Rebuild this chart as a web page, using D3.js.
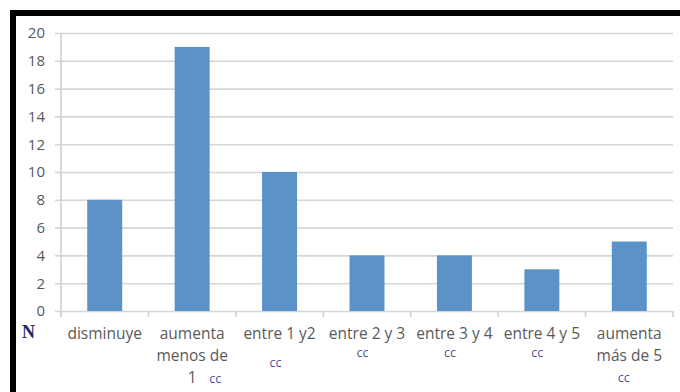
<!DOCTYPE html>
<html>
<head>
<meta charset="utf-8">
<script src="https://cdn.jsdelivr.net/npm/d3@7"></script>
<style>
  html, body { margin: 0; padding: 0; background: #fff; }
  svg { display: block; }
</style>
</head>
<body>
<svg id="chart" width="680" height="392"></svg>
<script>
// Category labels, one entry per wrapped line
const categories = [
  ["disminuye"],
  ["aumenta", "menos de", "1"],
  ["entre 1 y2"],
  ["entre 2 y 3"],
  ["entre 3 y 4"],
  ["entre 4 y 5"],
  ["aumenta", "más de 5"]
];
// Number of cases per category
const values = [8, 19, 10, 4, 4, 3, 5];
// Y axis tick labels
const yTicks = [0, 2, 4, 6, 8, 10, 12, 14, 16, 18, 20];
const unitLabel = "cc";
const axisLabel = "N";

const svg = d3.select("#chart");
const W = 680, H = 392;
const plot = { left: 61, right: 673, top: 33, bottom: 311 };

// frame strips along the top and left edges
svg.append("rect").attr("x", 10).attr("y", 10).attr("width", W - 10).attr("height", 6).attr("fill", "#000");
svg.append("rect").attr("x", 10).attr("y", 10).attr("width", 6).attr("height", H - 10).attr("fill", "#000");

const keys = categories.map((c, i) => i);
const x = d3.scaleBand().domain(keys).range([plot.left, plot.right])
  .paddingInner(0.6).paddingOuter(0.3);
const y = d3.scaleLinear().domain([0, 20]).range([plot.bottom, plot.top]);

// horizontal gridlines with tick labels
const yAxis = d3.axisLeft(y).tickValues(yTicks)
  .tickSize(-(plot.right - plot.left + 6)).tickSizeOuter(0).tickPadding(10);
const gy = svg.append("g").attr("transform", `translate(${plot.left - 6},0)`).call(yAxis);
gy.select(".domain").remove();
gy.selectAll(".tick line").attr("stroke", "#d6d6d6").attr("stroke-width", 1.6);
gy.selectAll(".tick text")
  .attr("fill", "#595959")
  .style("font-family", "'Open Sans', sans-serif")
  .style("font-size", "15px")
  .attr("x", -10);

// vertical axis line
svg.append("line")
  .attr("x1", plot.left).attr("x2", plot.left)
  .attr("y1", y(20)).attr("y2", y(0) + 6)
  .attr("stroke", "#d0d0d0").attr("stroke-width", 1.6);

// category boundary ticks under the baseline
const step = x.step();
const edges = d3.range(categories.length + 1).map(i => plot.left + i * step);
svg.append("g").selectAll("line").data(edges).join("line")
  .attr("x1", d => d).attr("x2", d => d)
  .attr("y1", y(0)).attr("y2", y(0) + 6)
  .attr("stroke", "#d0d0d0").attr("stroke-width", 1.6);

// bars
svg.append("g").selectAll("rect").data(values).join("rect")
  .attr("x", (d, i) => x(i))
  .attr("y", d => y(d))
  .attr("width", x.bandwidth())
  .attr("height", d => y(0) - y(d))
  .attr("fill", "#5b93c9");

// category labels
const baseY = 339, lineH = 22;
const labelFont = "'Open Sans', sans-serif";
const gl = svg.append("g");
categories.forEach((lines, i) => {
  const cx = x(i) + x.bandwidth() / 2;
  const t = gl.append("text")
    .attr("text-anchor", "middle")
    .attr("fill", "#595959")
    .style("font-family", labelFont)
    .style("font-size", "15.5px");
  lines.forEach((ln, j) => {
    t.append("tspan").attr("x", cx).attr("y", baseY + j * lineH).text(ln);
  });
});

// unit marks under the labels
function unit(xPos, yPos, anchor) {
  gl.append("text")
    .attr("x", xPos).attr("y", yPos)
    .attr("text-anchor", anchor)
    .attr("fill", "#4f4f96")
    .style("font-family", labelFont)
    .style("font-size", "12.5px")
    .text(unitLabel);
}
const center = i => x(i) + x.bandwidth() / 2;
unit(center(1) + 17, baseY + 2 * lineH, "start");
unit(center(2) - 4, baseY + 28, "middle");
unit(center(3) - 4.5, baseY + 18, "middle");
unit(center(4) - 4.5, baseY + 18, "middle");
unit(center(5) - 4.5, baseY + 18, "middle");
unit(center(6) - 5.5, baseY + 43, "middle");

// axis caption
svg.append("text")
  .attr("x", 22).attr("y", 338)
  .attr("fill", "#1c2a66")
  .style("font-family", "'Liberation Serif', serif")
  .style("font-weight", "bold")
  .style("font-size", "18px")
  .text(axisLabel);
</script>
</body>
</html>
